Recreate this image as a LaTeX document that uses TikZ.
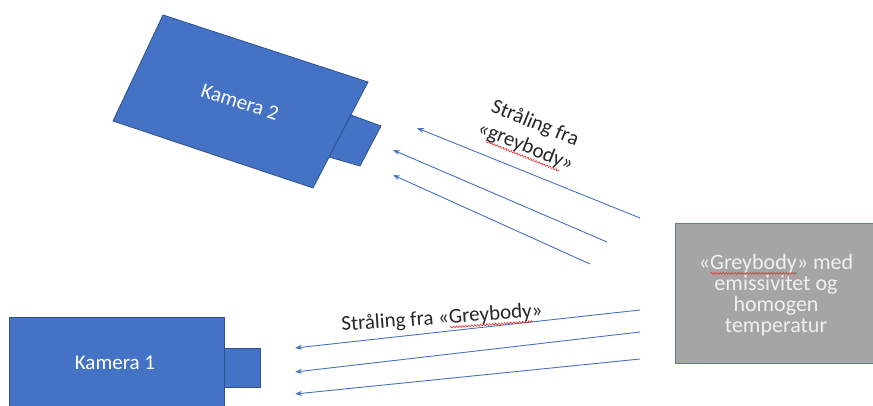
\documentclass[tikz,border=0pt]{standalone}
\usepackage{fontspec}
\setmainfont{Carlito}
\usetikzlibrary{arrows.meta,decorations.pathmorphing}

\definecolor{camblue}{HTML}{4472C4}
\definecolor{camedge}{HTML}{2F528F}
\definecolor{bodygray}{HTML}{A5A5A5}
\definecolor{bodyedge}{HTML}{5B7BB8}
\definecolor{raycol}{HTML}{4472C4}
\definecolor{spellred}{HTML}{F03030}

% red wavy spell-check underline under a word
\newlength\spellw
\newcommand\spellwave[1]{\setbox0\hbox{#1}\setlength\spellw{\wd0}%
  \rlap{\tikz[reset cm, x=1pt, y=1pt, baseline=0pt]{%
    \draw[spellred, line width=0.6pt, decorate,
          decoration={zigzag, segment length=3pt, amplitude=0.9pt}]
      (0pt,-4pt) -- (\spellw,-4pt);}}%
  \box0}

\tikzset{
  camshape/.style={fill=camblue, draw=camedge, line width=0.8pt, line join=miter},
  camlabel/.style={text=white, font=\fontsize{21}{25}\selectfont, inner sep=0pt},
  raylabel/.style={text=black!85, font=\fontsize{21}{25}\selectfont, align=center, inner sep=0pt},
  ray/.style={draw=raycol, line width=0.9pt, -{Stealth[length=7pt,width=5pt]}},
}

\begin{document}
\begin{tikzpicture}[x=1pt, y=-1pt]
  \useasboundingbox (0,0) rectangle (873,406);

  % Kamera 2 (tilted)
  \filldraw[camshape] (163,15) -- (368,82) -- (313,188) -- (113,121) -- cycle;
  \filldraw[camshape] (351,115) -- (381,126) -- (360,166) -- (329,157) -- cycle;
  \node[camlabel, rotate=-18] (k2) at (240,102) {Kamera 2};

  % Kamera 1
  \filldraw[camshape] (9,317) rectangle (224,420);
  \filldraw[camshape] (224,348) rectangle (260,387);
  \node[camlabel] (k1) at (115,363) {Kamera 1};

  % Grey body
  \node[fill=bodygray, draw=bodyedge, line width=1.2pt, minimum width=205pt, minimum height=140pt,
        anchor=north west, inner sep=0pt] (gb) at (675,223) {};
  \node[text=white!94!black, font=\fontsize{22}{21}\selectfont, align=center, inner sep=0pt] (gbt)
    at (776,295) {«\spellwave{Greybody}» med\\emissivitet og\\homogen\\temperatur};

  % rays towards Kamera 2
  \coordinate (a1) at (640,218); \coordinate (b1) at (417,128);
  \coordinate (a2) at (607,242); \coordinate (b2) at (393,150);
  \coordinate (a3) at (590,264); \coordinate (b3) at (393,175);
  \draw[ray] (a1) -- (b1);
  \draw[ray] (a2) -- (b2);
  \draw[ray] (a3) -- (b3);
  \node[raylabel, rotate=-22] (l2) at (530,136) {Stråling fra\\«\spellwave{greybody}»};

  % rays towards Kamera 1
  \coordinate (c1) at (640,310); \coordinate (d1) at (295,348);
  \coordinate (c2) at (640,332); \coordinate (d2) at (295,372);
  \coordinate (c3) at (640,359); \coordinate (d3) at (295,394);
  \draw[ray] (c1) -- (d1);
  \draw[ray] (c2) -- (d2);
  \draw[ray] (c3) -- (d3);
  \node[raylabel, rotate=4] (l1) at (442,319) {Stråling fra «\spellwave{Greybody}»};
\end{tikzpicture}
\end{document}
